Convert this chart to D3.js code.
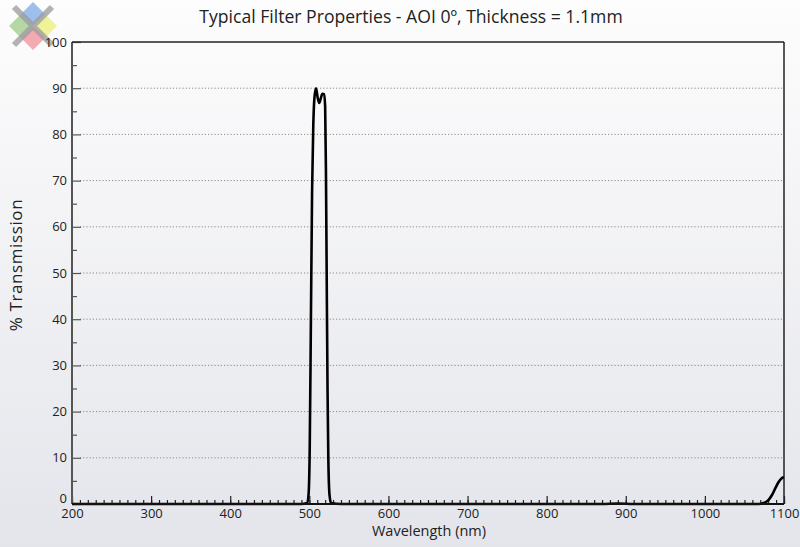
<!DOCTYPE html>
<html>
<head>
<meta charset="utf-8">
<script src="https://cdn.jsdelivr.net/npm/d3@7"></script>
<style>
  body { margin: 0; background: #fff; }
  text { font-family: "Open Sans", "Noto Sans", sans-serif; fill: #222; }
</style>
</head>
<body>
<div id="graphArea"></div>
<script>
// chart values
var wavelength = [200, 300, 400, 490, 497, 499, 500.5, 502, 503.5, 505, 506.5, 508.5, 510.5, 512.5, 514.5, 516.5, 518.5, 520, 521, 522, 523, 524, 525.5, 527.5, 540, 700, 870, 890, 910, 1000, 1068, 1074, 1080, 1085, 1089, 1093, 1096, 1098, 1100];
var transmission = [0, 0, 0, 0, 0.2, 2, 12, 40, 68, 82, 88, 90, 88, 86.8, 87.8, 88.8, 88.7, 86, 72, 48, 25, 10, 2, 0.2, 0, 0, 0, 0.1, 0, 0, 0, 0.2, 0.8, 2, 3.4, 4.7, 5.4, 5.7, 5.8];
var xTicks = [200, 300, 400, 500, 600, 700, 800, 900, 1000, 1100];
var yTicks = [0, 10, 20, 30, 40, 50, 60, 70, 80, 90, 100];

var title = "Typical Filter Properties - AOI 0º, Thickness = 1.1mm";
var xLabel = "Wavelength (nm)";
var yLabel = "% Transmission";

var W = 800, H = 547;
var margin = { top: 42, left: 72, bottom: 43, right: 16 };
var width = W - margin.left - margin.right;
var height = H - margin.top - margin.bottom;

var root = d3.select("#graphArea").append("svg")
  .attr("width", W)
  .attr("height", H);

// background gradient
var grad = root.append("defs").append("linearGradient")
  .attr("id", "bg").attr("x1", 0).attr("y1", 0).attr("x2", 0).attr("y2", 1);
grad.append("stop").attr("offset", "0%").attr("stop-color", "#fdfdfd");
grad.append("stop").attr("offset", "100%").attr("stop-color", "#e4e5eb");
root.append("rect").attr("width", W).attr("height", H).attr("fill", "url(#bg)");

// logo top-left
var logo = root.append("g").attr("transform", "translate(33,26)");
var d = 12;
logo.append("path").attr("d", "M0,-" + (2*d) + " L" + d + ",-" + d + " L0,0 L-" + d + ",-" + d + "Z").attr("fill", "#9cc0ea");
logo.append("path").attr("d", "M" + (2*d) + ",0 L" + d + ",-" + d + " L0,0 L" + d + "," + d + "Z").attr("fill", "#f0f29a");
logo.append("path").attr("d", "M0," + (2*d) + " L" + d + "," + d + " L0,0 L-" + d + "," + d + "Z").attr("fill", "#f3aab1");
logo.append("path").attr("d", "M-" + (2*d) + ",0 L-" + d + ",-" + d + " L0,0 L-" + d + "," + d + "Z").attr("fill", "#b5d7a6");
logo.append("path").attr("d", "M-19,-19 L19,19 M19,-19 L-19,19")
  .attr("stroke", "#9a9a9e").attr("stroke-width", 6).attr("opacity", 0.75);

var svg = root.append("g")
  .attr("transform", "translate(" + margin.left + "," + margin.top + ")");

var x = d3.scaleLinear().domain([200, 1100]).range([0, width]);
var y = d3.scaleLinear().domain([0, 100]).range([height, 0]);

// dotted grid
svg.selectAll(".grid")
  .data(yTicks.filter(function (t) { return t > 0 && t < 100; }))
  .enter().append("line")
  .attr("class", "grid")
  .attr("x1", 8).attr("x2", width)
  .attr("y1", function (t) { return y(t); })
  .attr("y2", function (t) { return y(t); })
  .attr("stroke", "#8a8a8a")
  .attr("stroke-width", 1)
  .attr("stroke-dasharray", "1.2,2");

// x axis, ticks point inward
var xAxis = svg.append("g")
  .attr("transform", "translate(0," + height + ")")
  .call(d3.axisBottom(x).tickValues(d3.range(200, 1101, 10)).tickSize(-4).tickFormat(""));
xAxis.selectAll(".tick line").attr("stroke", "#222").attr("stroke-width", 1.2);
xAxis.select(".domain").remove();

var xMajor = svg.append("g")
  .attr("transform", "translate(0," + height + ")")
  .call(d3.axisBottom(x).tickValues(xTicks).tickSize(-8).tickPadding(5).tickFormat(d3.format("d")));
xMajor.select(".domain").remove();
xMajor.selectAll(".tick line").attr("stroke", "#222").attr("stroke-width", 1.2);
xMajor.selectAll("text").attr("font-size", 13).attr("fill", "#222")
  .attr("font-family", "'Open Sans', sans-serif");

// y axis, ticks point inward
var yMinor = svg.append("g")
  .call(d3.axisLeft(y).tickValues(d3.range(5, 100, 10)).tickSize(-5).tickFormat(""));
yMinor.select(".domain").remove();
yMinor.selectAll(".tick line").attr("stroke", "#555").attr("stroke-width", 1.2);

var yAxis = svg.append("g")
  .call(d3.axisLeft(y).tickValues(yTicks).tickSize(-9).tickPadding(5).tickFormat(d3.format("d")));
yAxis.select(".domain").remove();
yAxis.selectAll(".tick line").attr("stroke", "#555").attr("stroke-width", 1.2);
yAxis.selectAll("text").attr("font-size", 13).attr("fill", "#222")
  .attr("font-family", "'Open Sans', sans-serif");
// the 0 label sits a little above the axis
yAxis.selectAll(".tick").filter(function (t) { return t === 0; })
  .select("text").attr("dy", "-0.15em");

// frame
svg.append("line").attr("x1", 0).attr("x2", 0).attr("y1", 0).attr("y2", height)
  .attr("stroke", "#555").attr("stroke-width", 2);
svg.append("line").attr("x1", 0).attr("x2", width).attr("y1", 0).attr("y2", 0)
  .attr("stroke", "#222").attr("stroke-width", 1.5);
svg.append("line").attr("x1", width).attr("x2", width).attr("y1", 0).attr("y2", height)
  .attr("stroke", "#222").attr("stroke-width", 1.5);

// transmission curve
var pts = wavelength.map(function (w, i) { return [w, transmission[i]]; });
var line = d3.line()
  .x(function (p) { return x(p[0]); })
  .y(function (p) { return y(p[1]); })
  .curve(d3.curveMonotoneX);

svg.append("path")
  .datum(pts)
  .attr("d", line)
  .attr("fill", "none")
  .attr("stroke", "#000")
  .attr("stroke-width", 2.6)
  .attr("stroke-linejoin", "round");

// bottom axis line on top
svg.append("line").attr("x1", 0).attr("x2", width).attr("y1", height).attr("y2", height)
  .attr("stroke", "#111").attr("stroke-width", 2);

// labels
root.append("text")
  .attr("x", 411).attr("y", 23)
  .attr("text-anchor", "middle")
  .attr("font-size", 17.6)
  .attr("fill", "#111")
  .text(title);

root.append("text")
  .attr("x", 429).attr("y", 536)
  .attr("text-anchor", "middle")
  .attr("font-size", 14.5)
  .text(xLabel);

root.append("text")
  .attr("transform", "translate(22,265) rotate(-90)")
  .attr("text-anchor", "middle")
  .attr("font-size", 17)
  .attr("letter-spacing", "0.6")
  .text(yLabel);
</script>
</body>
</html>
